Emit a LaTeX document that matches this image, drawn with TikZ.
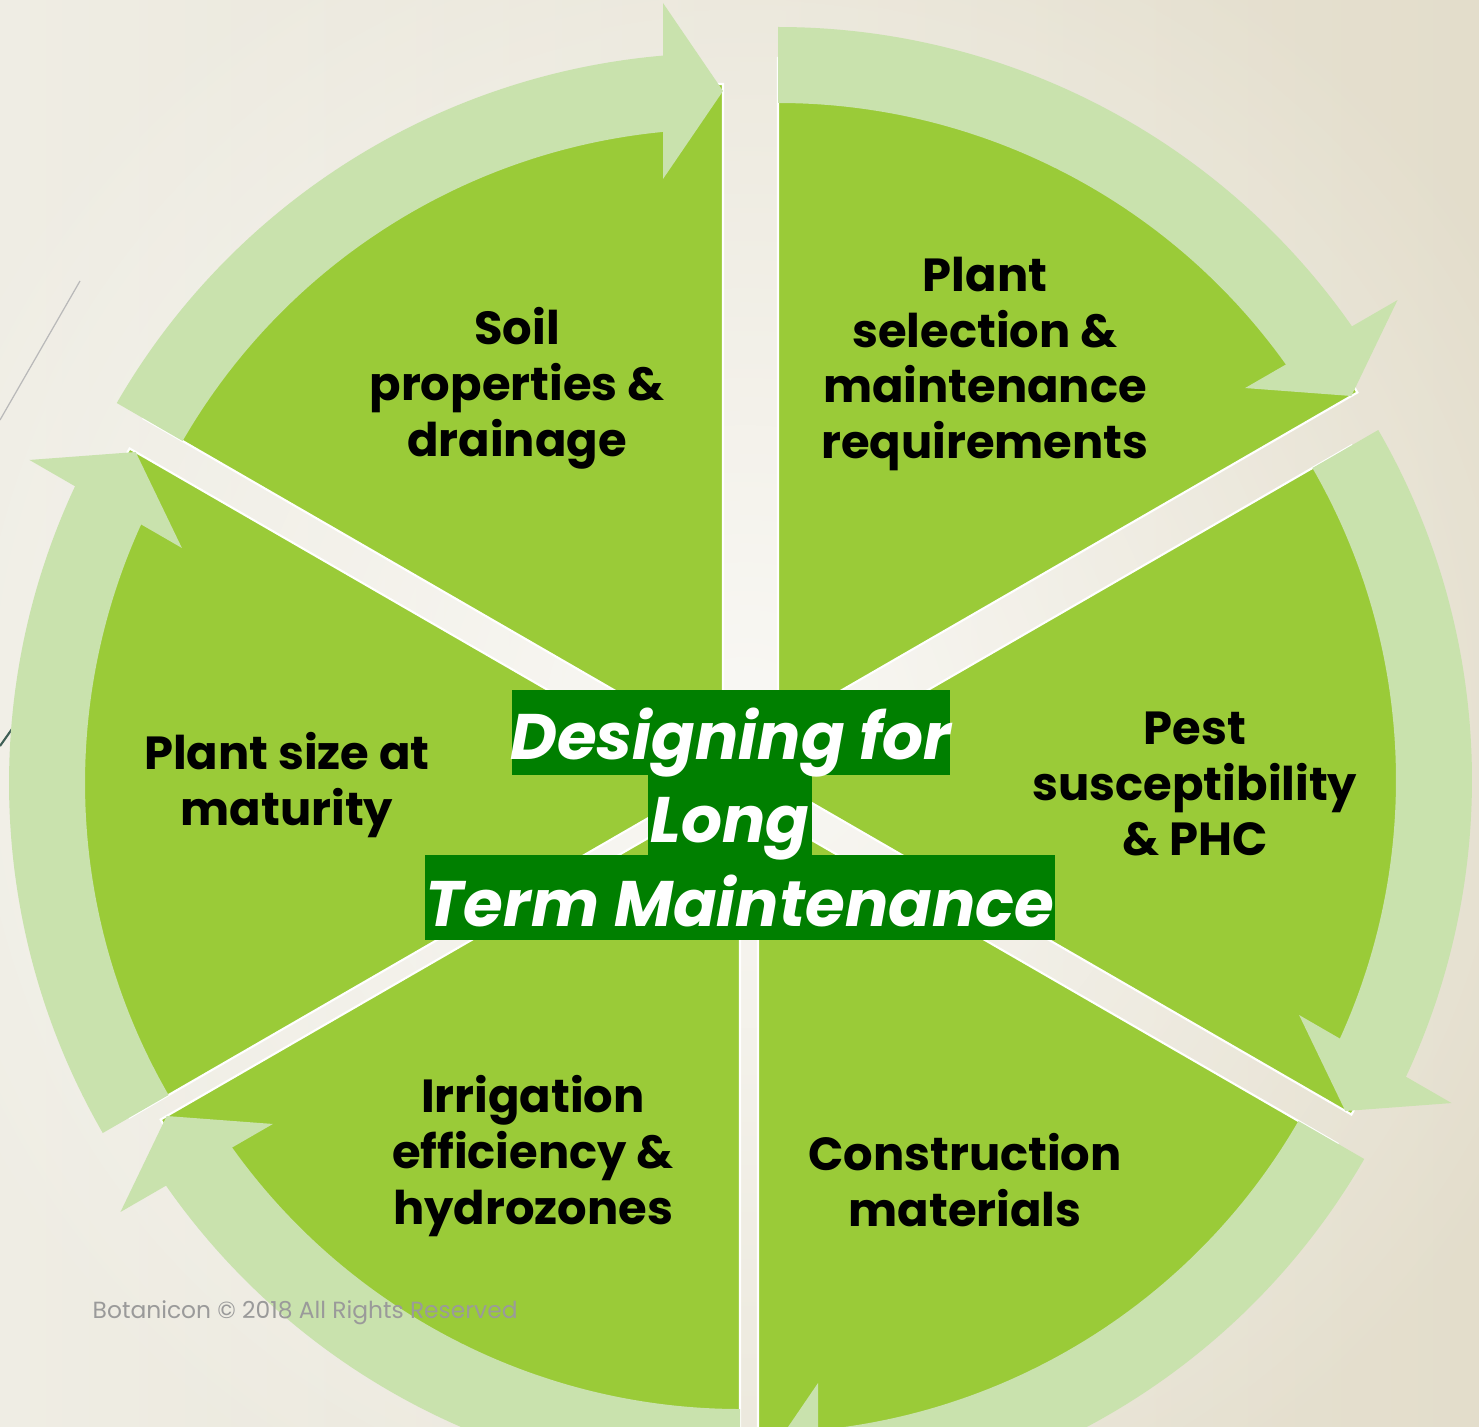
\documentclass[tikz,border=0pt]{standalone}
\usepackage{fontspec}
\setmainfont{Poppins}
\usetikzlibrary{calc,fadings}
\definecolor{wedgegreen}{HTML}{9ACB38}
\definecolor{bandgreen}{HTML}{C9E2AD}
\definecolor{boxgreen}{HTML}{007F00}
\definecolor{bgleft}{HTML}{EFEDE4}
\definecolor{bgright}{HTML}{E3DDCB}
\definecolor{darkslate}{HTML}{3F5F55}
\definecolor{markgray}{HTML}{9A9A9A}
\tikzfading[name=glowfade, inner color=transparent!25, outer color=transparent!100]
\tikzset{
  lbl/.style={align=center, inner sep=0pt, text=black,
    font=\fontsize{13.2}{15.9}\selectfont\bfseries},
  titlebox/.style={fill=boxgreen, inner sep=0pt, draw=none},
  titletext/.style={inner sep=0pt, text=white, anchor=base,
    font=\fontsize{18.3}{24}\selectfont\bfseries\itshape},
  wedge/.style={fill=wedgegreen, draw=white, line width=0.6pt},
  band/.style={fill=bandgreen},
}
\begin{document}
\begin{tikzpicture}[x=0.01cm,y=0.01cm]
\useasboundingbox (0,0) rectangle (1479,1426);
\shade[left color=bgleft, right color=bgright] (0,0) rectangle (1479,1426);
\fill[white, path fading=glowfade] (745,700) circle[radius=900];
% faint decorative lines
\coordinate (la) at (80,1145);
\coordinate (lb) at (0,1006);
\coordinate (lc) at (0,680);
\coordinate (ld) at (12,697);
\draw[gray!55, line width=0.35pt] (la) -- (lb);
\draw[darkslate, line width=0.6pt] (lc) -- (ld);
% wedges
\foreach \i/\ax/\ay/\s in {1/723/673/150, 2/778/699/90, 3/772/646/30, 4/758/617/-30, 5/740/641/270, 6/709/643/210}{
  \pgfmathsetmacro{\e}{\s-60}
  \coordinate (A\i) at (\ax,\ay);
  \fill[wedge] (A\i) -- ($(A\i)+(\s:669)$) arc[start angle=\s, end angle=\e, radius=669] -- cycle;
}
% arrows
\foreach \i/\ax/\ay/\s in {1/723/673/150, 2/778/699/90, 3/772/646/30, 4/758/617/-30, 5/740/641/270, 6/709/643/210}{
  \pgfmathsetmacro{\e}{\s-60}
  \pgfmathsetmacro{\b}{\s-55.5}
  \pgfmathsetmacro{\n}{\e+90}
  \pgfmathsetmacro{\o}{\e+180}
  \coordinate (C\i) at (\ax,\ay);
  \fill[band] ($(C\i)+(\s:624)$) arc[start angle=\s, end angle=\b, radius=624]
     -- ($(C\i)+(\b:700)$) arc[start angle=\b, end angle=\s, radius=700] -- cycle;
  \coordinate (T\i) at ($(C\i)+(\e:662)$);
  \fill[band] (T\i) -- ($(T\i)+(\n:60)+(\e:88)$) -- ($(T\i)+(\n:60)+(\o:88)$) -- cycle;
}
% labels
\node[lbl] (soil) at (517,1038) {Soil\\properties \&\\drainage};
\node[lbl] (plantsel) at (985,1062) {Plant\\selection \&\\maintenance\\requirements};
\node[lbl] (pest) at (1195,642) {Pest\\susceptibility\\\& PHC};
\node[lbl] (constr) at (965,246) {Construction\\materials};
\node[lbl] (irrig) at (533,270) {Irrigation\\efficiency \&\\hydrozones};
\node[lbl] (size) at (287,641) {Plant size at\\maturity};
% title
\node[titlebox, minimum width=4.38cm, minimum height=0.85cm] (box1) at (731,693.5) {};
\node[titlebox, minimum width=1.64cm, minimum height=0.80cm] (box2) at (730,611) {};
\node[titlebox, minimum width=6.30cm, minimum height=0.85cm] (box3) at (740,528.5) {};
\node[titletext] (t1) at (731,667) {Designing for};
\node[titletext] (t2) at (730,584) {Long};
\node[titletext] (t3) at (740,500) {Term Maintenance};
% watermark
\node[inner sep=0pt, text=markgray, anchor=west, font=\fontsize{6.65}{8}\selectfont] (mark) at (92,113) {Botanicon © 2018 All Rights Reserved};
\end{tikzpicture}
\end{document}
